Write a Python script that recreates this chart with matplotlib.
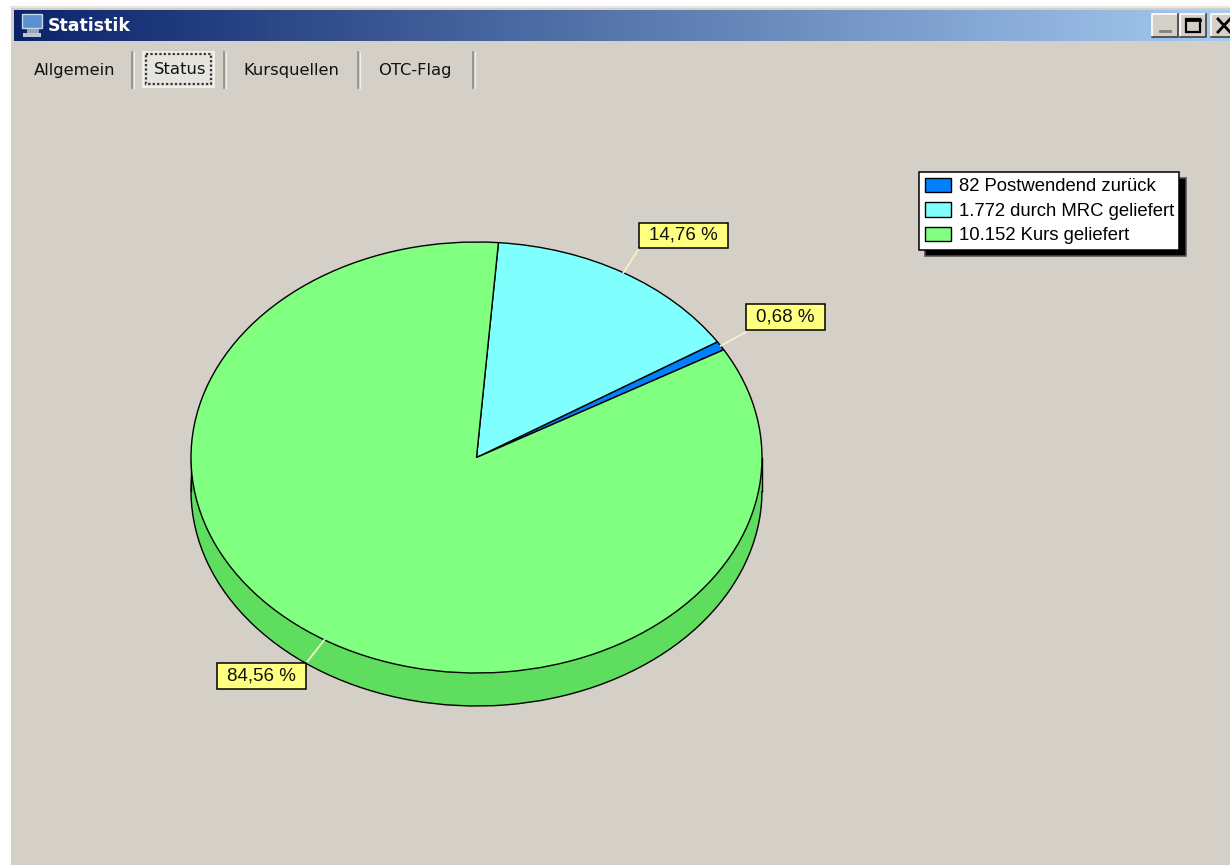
import numpy as np
import matplotlib
matplotlib.use('Agg')
import matplotlib.pyplot as plt
from matplotlib.patches import Rectangle

# values from the legend
counts = [82, 1772, 10152]
legend_text = ['82 Postwendend zurück', '1.772 durch MRC geliefert', '10.152 Kurs geliefert']
colors = ['#0080FF', '#80FFFF', '#80FF80']
side_colors = ['#0066CC', '#66CCCC', '#5EDD5E']
tabs = ['Allgemein', 'Status', 'Kursquellen', 'OTC-Flag']
title = 'Statistik'

W, H = 1230, 865
bg = '#D4D0C8'

fig = plt.figure(figsize=(W / 100, H / 100), dpi=100, facecolor='white')

# window parts are placed in screen pixels
win = fig.add_axes([0, 0, 1, 1])
win.set_xlim(0, W)
win.set_ylim(H, 0)
win.axis('off')
win.add_patch(Rectangle((11, 8), W, H, fc=bg, ec='none'))
win.plot([11, W], [7, 7], color='#E8E6E0', lw=1.5)

grad = np.linspace(0, 1, 256)[None, :, None]
c1 = np.array(matplotlib.colors.to_rgb('#0A246A'))
c2 = np.array(matplotlib.colors.to_rgb('#A6CAF0'))
win.imshow(c1 + grad * (c2 - c1), extent=(14, W, 41, 10), aspect='auto', zorder=1)
win.set_xlim(0, W)
win.set_ylim(H, 0)

# small monitor icon
win.add_patch(Rectangle((22, 14), 20, 14, fc='#5B8FD0', ec='#C8D4E8', lw=1, zorder=2))
win.add_patch(Rectangle((27, 29), 12, 4, fc='#9AA4B4', ec='none', zorder=2))
win.add_patch(Rectangle((23, 33), 18, 4, fc='#C0C6D0', ec='none', zorder=2))
win.text(48, 26, title, color='white', fontsize=12.5, fontweight='bold', va='center',
         family='DejaVu Sans', zorder=3)

# caption buttons
for x0, x1 in [(1152, 1178), (1180, 1206), (1211, 1240)]:
    win.add_patch(Rectangle((x0, 14), x1 - x0, 23, fc=bg, ec='none', zorder=2))
    win.plot([x0, x0, x1], [37, 14, 14], color='white', lw=1.2, zorder=3)
    win.plot([x0, x1, x1], [37, 37, 14], color='#404040', lw=1.2, zorder=3)
win.plot([1160, 1170], [31, 31], color='#808080', lw=2, zorder=4)
win.add_patch(Rectangle((1186, 19), 14, 13, fc='none', ec='black', lw=1.6, zorder=4))
win.plot([1186, 1200], [20, 20], color='black', lw=2, zorder=4)
win.plot([1218, 1230], [19, 32], color='black', lw=2, zorder=4)
win.plot([1218, 1230], [32, 19], color='black', lw=2, zorder=4)

# tab strip
tab_x = [75, 180, 291, 415]
for name, x in zip(tabs, tab_x):
    win.text(x, 70, name, ha='center', va='center', fontsize=11.8, color='#111111',
             family='DejaVu Sans', zorder=4)
for x in [132, 224, 358, 473]:
    win.plot([x, x], [52, 88], color='#8E8C86', lw=1.2)
    win.plot([x + 1.5, x + 1.5], [52, 88], color='#F2F0EC', lw=0.8)
win.add_patch(Rectangle((143, 52), 71, 35, fc='#E6E4DE', ec='#F4F3EF', lw=1.2))
win.add_patch(Rectangle((146, 54), 65, 30, fc='none', ec='#333333', lw=1.6, ls=(0, (1, 1))))

# pie, one data unit = the pie radius on screen
cx, cy, rx, ry, depth = 476.5, 457.5, 285.5, 215.5, 33
ax = fig.add_axes([0, 0, 1, 1])
ax.patch.set_alpha(0)
start = 30
wp = dict(edgecolor='black', linewidth=1)
d = depth / ry
side, _ = ax.pie(counts, colors=side_colors, startangle=start, center=(0, -d),
                 wedgeprops=wp, normalize=True)
ax.add_patch(Rectangle((-1, -d), 2, d, fc=side_colors[2], ec='none', zorder=side[0].get_zorder()))
ax.plot([-1, -1], [-d, 0], color='black', lw=1)
ax.plot([1, 1], [-d, 0], color='black', lw=1)
top, _ = ax.pie(counts, colors=colors, startangle=start, center=(0, 0),
                wedgeprops=wp, normalize=True)
for w in top:
    w.set_zorder(5)
ax.set_aspect('auto')
ax.set_xlim(-cx / rx, (W - cx) / rx)
ax.set_ylim(-(H - cy) / ry, cy / ry)
ax.axis('off')

# percent labels with leader lines
total = sum(counts)
label_boxes = [(746, 304, 825, 330), (639, 223, 728, 248), (217, 663, 306, 689)]
line_ends = [(746, 332), (638, 250), (307, 662)]
a0 = start
for n, box, end in zip(counts, label_boxes, line_ends):
    frac = n / total
    mid = np.radians(a0 + frac * 180)
    a0 += frac * 360
    win2 = ax.transData.inverted().transform(win.transData.transform(end))
    ax.plot([np.cos(mid), win2[0]], [np.sin(mid), win2[1]], color='#F4F2C8', lw=1.3, zorder=6)
    bx = ax.transData.inverted().transform(win.transData.transform((box[0], box[3])))
    bx2 = ax.transData.inverted().transform(win.transData.transform((box[2], box[1])))
    ax.add_patch(Rectangle(bx, bx2[0] - bx[0], bx2[1] - bx[1], fc='#FFFF80', ec='black',
                           lw=1.1, zorder=7))
    ax.text((bx[0] + bx2[0]) / 2, (bx[1] + bx2[1]) / 2,
            ('%.2f %%' % (frac * 100)).replace('.', ','), ha='center', va='center',
            fontsize=13.5, family='Liberation Sans', color='#111111', zorder=8)

# legend
leg = ax.legend(top, legend_text, loc='upper left',
                bbox_to_anchor=(919 / W, 1 - 172 / H), bbox_transform=fig.transFigure,
                borderaxespad=0, fancybox=False, framealpha=1, edgecolor='black',
                prop={'family': 'Liberation Sans', 'size': 13.3},
                handlelength=1.42, handleheight=0.85, handletextpad=0.42,
                labelspacing=0.37, borderpad=0.3,
                shadow={'ox': 4.5, 'oy': -4.5, 'facecolor': 'black', 'alpha': 1})
leg.get_frame().set_linewidth(1.1)
leg.set_zorder(9)
# nudge: the reference keeps more room left of the swatches than right of the text
leg.set_bbox_to_anchor((919 / W, 1 - 172 / H), transform=fig.transFigure)

plt.savefig('out.png', dpi=100, facecolor=fig.get_facecolor())
